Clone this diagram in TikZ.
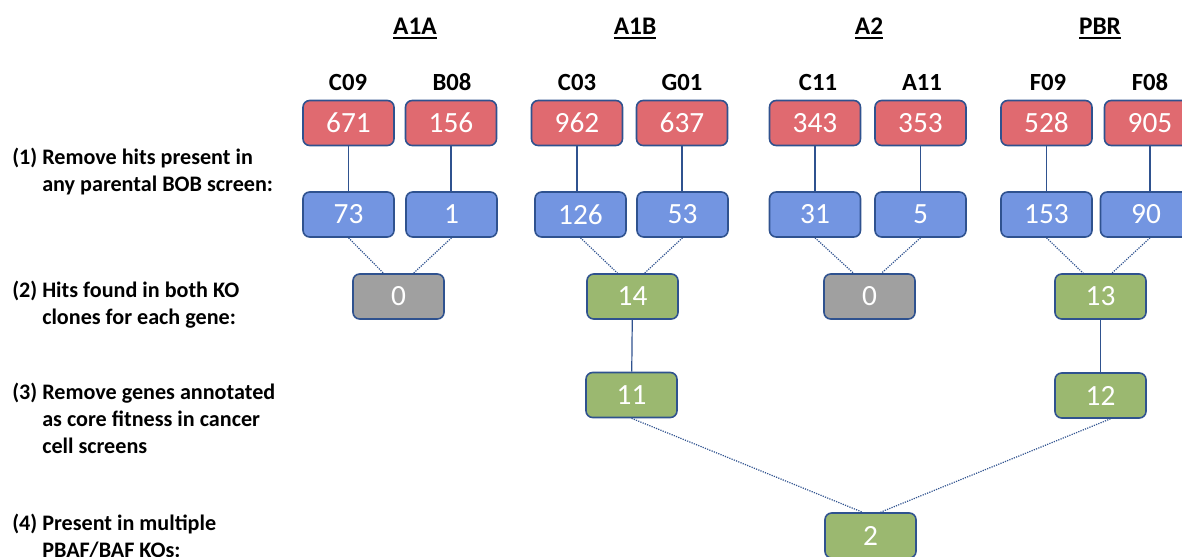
\documentclass[tikz,border=0pt]{standalone}
\usepackage{fontspec}
\setmainfont{Carlito}
\usetikzlibrary{calc}
\definecolor{redfill}{RGB}{224,106,112}
\definecolor{bluefill}{RGB}{115,149,225}
\definecolor{greenfill}{RGB}{155,184,112}
\definecolor{grayfill}{RGB}{160,160,160}
\definecolor{edge}{RGB}{47,82,143}
\newcommand{\hdul}[1]{\setbox0\hbox{#1}\rlap{\rule[-3pt]{\wd0}{1.3pt}}\box0}
\tikzset{
  numbox/.style={draw=edge, line width=1.2pt, rounded corners=5pt,
    minimum width=68.25pt, minimum height=33.75pt, inner sep=0pt,
    text=white, font=\fontsize{22}{26}\selectfont},
  redbox/.style={numbox, fill=redfill},
  bluebox/.style={numbox, fill=bluefill},
  greenbox/.style={numbox, fill=greenfill},
  graybox/.style={numbox, fill=grayfill},
  clonelabel/.style={anchor=base, inner sep=0pt, font=\bfseries\fontsize{18.5}{22}\selectfont},
  grouplabel/.style={anchor=base, inner sep=0pt, font=\bfseries\fontsize{19}{23}\selectfont},
  steptext/.style={anchor=base west, inner sep=0pt, align=left, font=\bfseries\fontsize{16.6}{20.25}\selectfont},
  solidlink/.style={draw=edge, line width=0.9pt},
  dotlink/.style={draw=edge, line width=0.9pt, dash pattern=on 0.9pt off 0.9pt}
}
\begin{document}
\begin{tikzpicture}[x=0.75pt,y=-0.75pt]
\useasboundingbox (0,0) rectangle (1182,557);
\clip (0,0) rectangle (1182,557);

% step descriptions
\node[steptext] (s1) at (12,164) {\begin{tabular}[t]{@{}p{22.5pt}@{}l@{}}(1)&Remove hits present in\\ &any parental BOB screen:\end{tabular}};
\node[steptext] (s2) at (12,297) {\begin{tabular}[t]{@{}p{22.5pt}@{}l@{}}(2)&Hits found in both KO\\ &clones for each gene:\end{tabular}};
\node[steptext] (s3) at (12,399) {\begin{tabular}[t]{@{}p{22.5pt}@{}l@{}}(3)&Remove genes annotated\\ &as core fitness in cancer\\ &cell screens\end{tabular}};
\node[steptext] (s4) at (12,530) {\begin{tabular}[t]{@{}p{22.5pt}@{}l@{}}(4)&Present in multiple\\ &PBAF/BAF KOs:\end{tabular}};

% group headers
\node[grouplabel] (gA1A) at (415,34.5) {\hdul{A1A}};
\node[grouplabel] (gA1B) at (635,34.5) {\hdul{A1B}};
\node[grouplabel] (gA2) at (869,34.5) {\hdul{A2}};
\node[grouplabel] (gPBR) at (1100,34.5) {\hdul{PBR}};

% clone labels
\node[clonelabel] (lC09) at (348,90) {C09};
\node[clonelabel] (lB08) at (452,90) {B08};
\node[clonelabel] (lC03) at (577,90) {C03};
\node[clonelabel] (lG01) at (682,90) {G01};
\node[clonelabel] (lC11) at (818,90) {C11};
\node[clonelabel] (lA11) at (922,90) {A11};
\node[clonelabel] (lF09) at (1048,90) {F09};
\node[clonelabel] (lF08) at (1150,90) {F08};

% row 1: red
\node[redbox] (r1) at (348.5,123) {671};
\node[redbox] (r2) at (451,123) {156};
\node[redbox] (r3) at (577,123) {962};
\node[redbox] (r4) at (682,123) {637};
\node[redbox] (r5) at (815,123) {343};
\node[redbox] (r6) at (920.5,123) {353};
\node[redbox] (r7) at (1046.5,123) {528};
\node[redbox] (r8) at (1150,123) {905};

% row 2: blue
\node[bluebox] (b1) at (348.5,214.5) {73};
\node[bluebox] (b2) at (451.5,214.5) {1};
\node[bluebox] (b3) at (580.5,214.5) {126};
\node[bluebox] (b4) at (682.5,214.5) {53};
\node[bluebox] (b5) at (815,214.5) {31};
\node[bluebox] (b6) at (920.5,214.5) {5};
\node[bluebox] (b7) at (1046.5,214.5) {153};
\node[bluebox] (b8) at (1146,214.5) {90};

% row 3
\node[graybox] (c1) at (398.5,296.5) {0};
\node[greenbox] (c2) at (632.5,296.5) {14};
\node[graybox] (c3) at (869.5,296.5) {0};
\node[greenbox] (c4) at (1100.5,296.5) {13};

% row 4
\node[greenbox] (d2) at (631.5,395) {11};
\node[greenbox] (d4) at (1100.5,395.5) {12};

% row 5
\node[greenbox] (e1) at (870.5,535.5) {2};

% solid links red -> blue
\foreach \i in {1,...,8} {
  \draw[solidlink] (r\i.south) -- (r\i.south |- b\i.north);
}
\draw[solidlink] (c2) -- (d2);
\draw[solidlink] (c4) -- (d4);

% dotted links
\draw[dotlink] (b1.south) -- ([xshift=-11.25pt]c1.north);
\draw[dotlink] (b2.south) -- ([xshift=11.25pt]c1.north);
\draw[dotlink] (b3.south) -- ([xshift=-11.25pt]c2.north);
\draw[dotlink] (b4.south) -- ([xshift=9pt]c2.north);
\draw[dotlink] (b5.south) -- ([xshift=-12pt]c3.north);
\draw[dotlink] (b6.south) -- ([xshift=9pt]c3.north);
\draw[dotlink] (b7.south) -- ([xshift=-13pt]c4.north);
\draw[dotlink] ([xshift=3pt]b8.south) -- ([xshift=8.5pt]c4.north);
\draw[dotlink] (d2.south) -- ([xshift=-6pt]e1.north);
\draw[dotlink] ([xshift=7.5pt]d4.south) -- ([xshift=7.5pt]e1.north);
\end{tikzpicture}
\end{document}
